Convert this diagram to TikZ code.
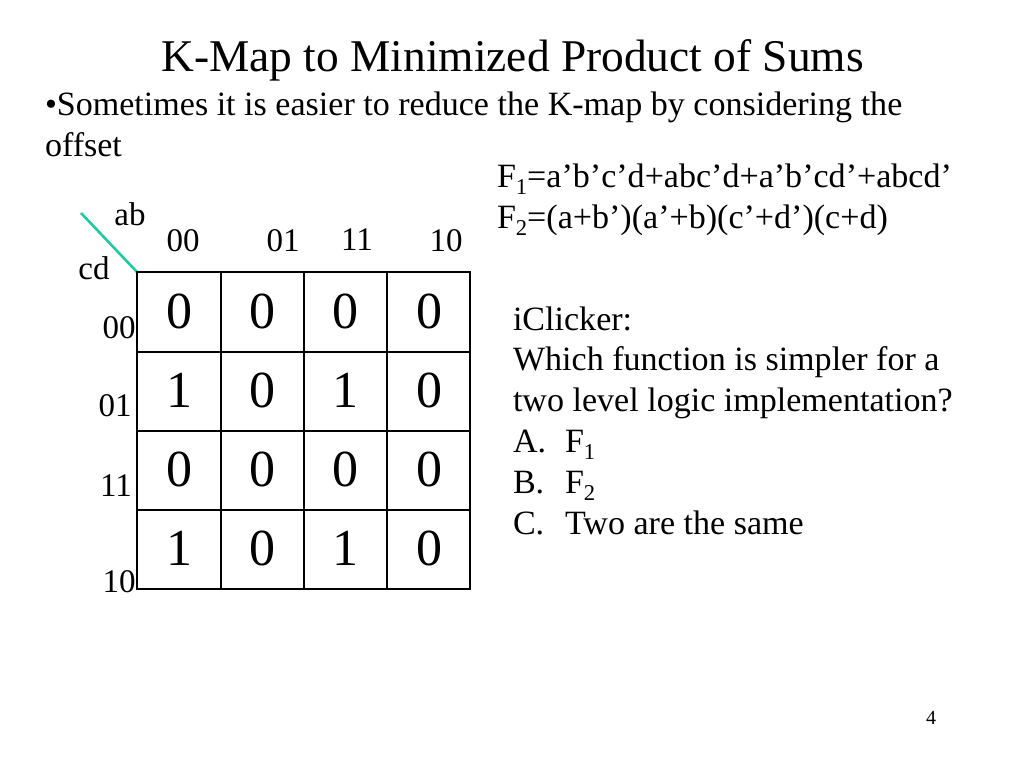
\documentclass[tikz,border=0pt]{standalone}
\usepackage{fontspec}
\setmainfont{Liberation Serif}
\definecolor{slashc}{HTML}{22C9A0}
\newcommand{\subdigit}[1]{\raisebox{-.21em}{\fontsize{22.6}{22.6}\selectfont #1}}
\tikzset{
 txt/.style={anchor=base west,inner sep=0,outer sep=0,font=\fontsize{34.05}{34.05}\selectfont},
 hdr/.style={anchor=base,inner sep=0,outer sep=0,font=\fontsize{33}{33}\selectfont},
 cellv/.style={anchor=center,inner sep=0,outer sep=0,font=\fontsize{52}{52}\selectfont},
 title/.style={anchor=base,inner sep=0,outer sep=0,font=\fontsize{45.4}{45.4}\selectfont}
}
\begin{document}
\begin{tikzpicture}[x=1pt,y=-1pt]
\useasboundingbox (0,0) rectangle (1024,768);
\fill[white] (0,0) rectangle (1024,768);
\node[title] (t) at (512.5,71) {K-Map to Minimized Product of Sums};
\node[txt] (b1) at (45,115) {•Sometimes it is easier to reduce the K-map by considering the};
\node[txt] (b2) at (45,156) {offset};
\node[txt] (f1) at (497,187) {F\subdigit{1}=a’b’c’d+abc’d+a’b’cd’+abcd’};
\node[txt] (f2) at (497,228) {F\subdigit{2}=(a+b’)(a’+b)(c’+d’)(c+d)};
\node[hdr] (ab) at (130,225) {ab};
\node[hdr] (cd) at (94,279) {cd};
\coordinate (s1) at (81,213); \coordinate (s2) at (137,272);
\draw[line width=2.6pt,color=slashc] (s1) -- (s2);
\node[hdr] (h1) at (183,251) {00};
\node[hdr] (h2) at (283,251) {01};
\node[hdr] (h3) at (357,250) {11};
\node[hdr] (h4) at (446,251) {10};
\node[hdr] (r1) at (119,338) {00};
\node[hdr] (r2) at (115,416) {01};
\node[hdr] (r3) at (116,496) {11};
\node[hdr] (r4) at (119,592) {10};
\draw[line width=1.1pt] (137,272) rectangle (470,589);
\foreach \x in {221,304,387} \draw[line width=1.1pt] (\x,272)--(\x,589);
\foreach \y in {352,431,510} \draw[line width=1.1pt] (137,\y)--(470,\y);
\node[cellv] (c11) at (179,311) {0};\node[cellv] (c12) at (262,311) {0};\node[cellv] (c13) at (345,311) {0};\node[cellv] (c14) at (429,311) {0};
\node[cellv] (c21) at (179,390) {1};\node[cellv] (c22) at (262,390) {0};\node[cellv] (c23) at (345,390) {1};\node[cellv] (c24) at (429,390) {0};
\node[cellv] (c31) at (179,469) {0};\node[cellv] (c32) at (262,469) {0};\node[cellv] (c33) at (345,469) {0};\node[cellv] (c34) at (429,469) {0};
\node[cellv] (c41) at (179,548) {1};\node[cellv] (c42) at (262,548) {0};\node[cellv] (c43) at (345,548) {1};\node[cellv] (c44) at (429,548) {0};
\node[txt] (q1) at (513,330) {iClicker:};
\node[txt] (q2) at (513,370) {Which function is simpler for a};
\node[txt] (q3) at (513,411) {two level logic implementation?};
\node[txt] (q4) at (513,452) {A.};\node[txt] (q4b) at (565,452) {F\subdigit{1}};
\node[txt] (q5) at (513,493) {B.};\node[txt] (q5b) at (565,493) {F\subdigit{2}};
\node[txt] (q6) at (513,534) {C.};\node[txt] (q6b) at (565,534) {Two are the same};
\node[hdr,font=\fontsize{20}{20}\selectfont] (pn) at (931,724) {4};
\end{tikzpicture}
\end{document}
